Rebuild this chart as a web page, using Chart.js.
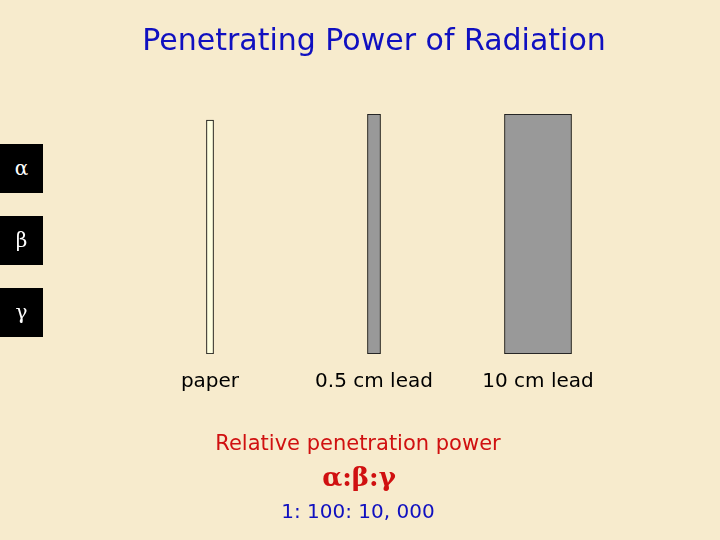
<!DOCTYPE html>
<html>
<head>
<meta charset="utf-8">
<script src="https://cdn.jsdelivr.net/npm/chart.js@4"></script>
<style>
  body { margin: 0; width: 720px; height: 540px; background: #f7ebcd; position: relative; overflow: hidden;
         font-family: "DejaVu Sans", sans-serif; }
  #wrap { position: absolute; left: 0; top: 0; width: 720px; height: 540px; }
  .box { position: absolute; left: 0; width: 43px; height: 49px; background: #000; color: #fff;
         font-family: "DejaVu Serif", serif; font-size: 20px; line-height: 49px; text-align: center; }
  .txt { position: absolute; left: 0; width: 720px; text-align: center; }
</style>
</head>
<body>
<div id="wrap"><canvas id="grafico" width="720" height="540"></canvas></div>
<div class="box" style="top:144px">α</div>
<div class="box" style="top:216px">β</div>
<div class="box" style="top:288px">γ</div>
<div class="txt" style="top:431px;left:-2px;color:#d01010;font-size:21px">Relative penetration power</div>
<div class="txt" style="top:462px;left:-1px;color:#d01010;font-size:26px;font-weight:bold;font-family:'DejaVu Serif',serif">α:β:γ</div>
<div class="txt" style="top:499px;left:-2px;color:#1010c0;font-size:20px">1: 100: 10, 000</div>
<script>
// Barreiras e dados
var barreiras = ['paper', '0.5 cm lead', '10 cm lead'];
var alturas = [97.5, 100, 100];
var espessuras = [7, 13, 67];
var cores = ['#ffffe0', '#999999', '#999999'];

var conjuntos = barreiras.map(function (nome, i) {
    var dados = barreiras.map(function (_, j) { return j === i ? [0, alturas[i]] : null; });
    return {
        label: nome,
        data: dados,
        backgroundColor: cores[i],
        borderColor: '#000000',
        borderWidth: 1,
        borderSkipped: false,
        barThickness: espessuras[i],
        grouped: false
    };
});

new Chart(document.getElementById('grafico').getContext('2d'), {
    type: 'bar',
    data: { labels: barreiras, datasets: conjuntos },
    options: {
        responsive: false,
        animation: false,
        layout: { padding: { left: 128, right: 100, top: 0, bottom: 138 } },
        plugins: {
            legend: { display: false },
            tooltip: { enabled: false },
            title: {
                display: true,
                text: 'Penetrating Power of Radiation',
                color: '#1010c0',
                font: { size: 30, family: 'DejaVu Sans', weight: 'normal' },
                padding: { top: 24, bottom: 54 }
            }
        },
        scales: {
            x: {
                grid: { display: false },
                border: { display: false },
                ticks: { color: '#000000', font: { size: 20, family: 'DejaVu Sans' }, padding: 8 }
            },
            y: { display: false, min: 0, max: 100 }
        }
    }
});
</script>
</body>
</html>
